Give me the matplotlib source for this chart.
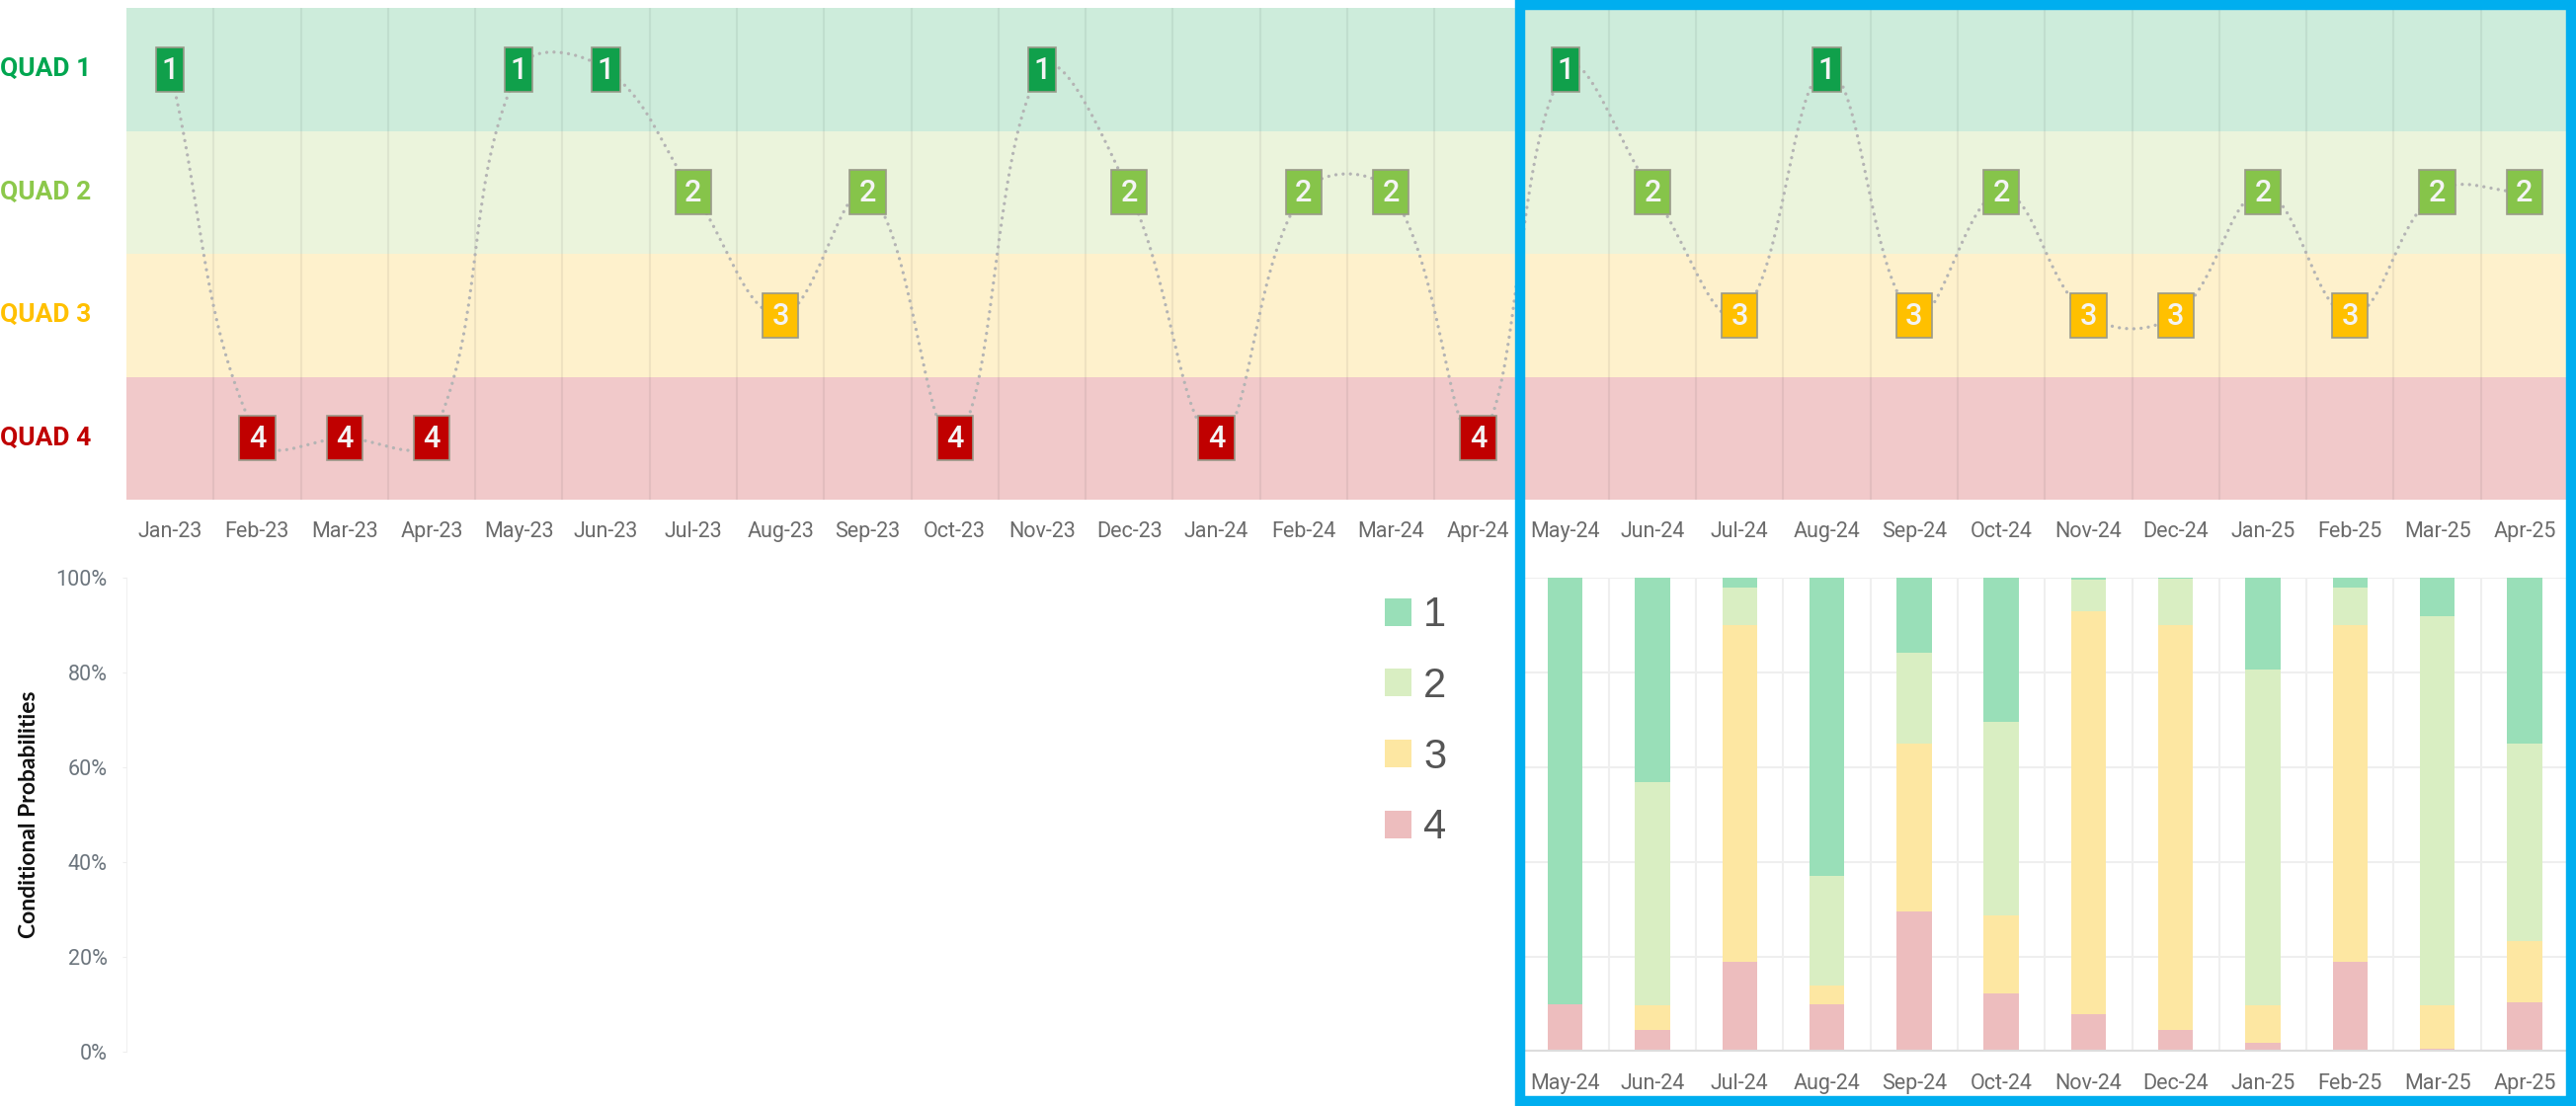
import matplotlib
matplotlib.use('Agg')
import matplotlib.pyplot as plt
import numpy as np
from matplotlib.patches import Rectangle, Patch

# months shown on the top chart
months = ['Jan-23', 'Feb-23', 'Mar-23', 'Apr-23', 'May-23', 'Jun-23', 'Jul-23',
          'Aug-23', 'Sep-23', 'Oct-23', 'Nov-23', 'Dec-23', 'Jan-24', 'Feb-24',
          'Mar-24', 'Apr-24', 'May-24', 'Jun-24', 'Jul-24', 'Aug-24', 'Sep-24',
          'Oct-24', 'Nov-24', 'Dec-24', 'Jan-25', 'Feb-25', 'Mar-25', 'Apr-25']
# quadrant for each month
quads = [1, 4, 4, 4, 1, 1, 2, 3, 2, 4, 1, 2, 4, 2, 2, 4,
         1, 2, 3, 1, 3, 2, 3, 3, 2, 3, 2, 2]
quad_labels = ['QUAD 1', 'QUAD 2', 'QUAD 3', 'QUAD 4']

# conditional probabilities (%) for the last 12 months
bar_months = months[16:]
prob_1 = [90.0, 43.2, 2.0, 63.0, 15.9, 30.5, 0.4, 0.2, 19.3, 2.0, 8.1, 35.0]
prob_2 = [0.0, 47.0, 8.0, 23.0, 19.2, 40.7, 6.6, 9.7, 70.9, 8.0, 82.1, 41.6]
prob_3 = [0.0, 5.3, 71.0, 4.0, 35.3, 16.6, 85.0, 85.6, 7.9, 71.0, 9.2, 12.9]
prob_4 = [10.0, 4.5, 19.0, 10.0, 29.6, 12.2, 8.0, 4.5, 1.9, 19.0, 0.6, 10.5]

band_colors = {1: '#cdecdb', 2: '#ebf4dc', 3: '#fef1cc', 4: '#f1c9ca'}
marker_colors = {1: '#10a04b', 2: '#86c44a', 3: '#ffc000', 4: '#c00000'}
label_colors = {1: '#00a650', 2: '#8cc84b', 3: '#ffc000', 4: '#c00000'}
bar_colors = {1: '#99dfb8', 2: '#d9eec2', 3: '#fde7a2', 4: '#edbdbe'}

plt.rcParams['font.family'] = ['Roboto', 'DejaVu Sans']

W, H = 2608, 1120
fig = plt.figure(figsize=(W / 100, H / 100), dpi=100)
left, right = 128, 2600
ax = fig.add_axes([left / W, 1 - 506 / H, (right - left) / W, (506 - 8) / H])
axb = fig.add_axes([left / W, 1 - 1065 / H, (right - left) / W, (1065 - 585) / H])

n = len(months)
x = np.arange(n)

# ---- top chart: regime bands ----
for q in range(1, 5):
    ax.axhspan(q - 0.5, q + 0.5, color=band_colors[q], lw=0, zorder=0)
    ax.text(-128 / (right - left), q, quad_labels[q - 1], transform=ax.get_yaxis_transform(),
            ha='left', va='center', fontsize=19, fontweight='bold', color=label_colors[q])
for b in np.arange(0.5, n - 0.5, 1):
    ax.axvline(b, color='black', alpha=0.06, lw=1.5, zorder=1)


def spline(px, py, tension=0.4):
    # chart.js style bezier smoothing in pixel space
    sx, sy = 88.3, 124.5
    P = np.column_stack([px * sx, py * sy])
    cps = []
    for i in range(len(P)):
        prev = P[i - 1] if i > 0 else P[i]
        nxt = P[i + 1] if i < len(P) - 1 else P[i]
        d01 = np.hypot(*(P[i] - prev))
        d12 = np.hypot(*(nxt - P[i]))
        tot = d01 + d12
        s01 = d01 / tot if tot else 0
        s12 = d12 / tot if tot else 0
        cps.append((P[i] - tension * s01 * (nxt - prev), P[i] + tension * s12 * (nxt - prev)))
    t = np.linspace(0, 1, 40)[:, None]
    segs = []
    for i in range(len(P) - 1):
        p0, p1, p2, p3 = P[i], cps[i][1], cps[i + 1][0], P[i + 1]
        seg = (1 - t) ** 3 * p0 + 3 * (1 - t) ** 2 * t * p1 + 3 * (1 - t) * t ** 2 * p2 + t ** 3 * p3
        segs.append(seg)
    c = np.vstack(segs)
    return c[:, 0] / sx, c[:, 1] / sy


cx, cy = spline(x.astype(float), np.array(quads, dtype=float))
ax.plot(cx, cy, color='#b4b4b4', lw=2.4, ls=(0, (0.01, 2.2)), dash_capstyle='round', zorder=2)

for i, q in enumerate(quads):
    w = 0.32 if q == 1 else 0.41
    h = 0.36
    ax.add_patch(Rectangle((i - w / 2, q - h / 2), w, h, facecolor=marker_colors[q],
                           edgecolor='#9a9a8a', lw=1.2, zorder=3))
    ax.text(i, q + 0.01, str(q), ha='center', va='center', color='#f4f4f4',
            fontsize=22, fontweight='medium', zorder=4)

ax.set_xlim(-0.5, n - 0.5)
ax.set_ylim(4.5, 0.5)
ax.set_yticks([])
ax.set_xticks(x)
ax.set_xticklabels(months, fontsize=15.5, color='#6b6b6b')
ax.tick_params(axis='x', length=0, pad=16)
for s in ax.spines.values():
    s.set_visible(False)

# ---- bottom chart: stacked conditional probabilities ----
bx = x[16:]
bw = 0.4
bottom = np.zeros(len(bx))
for q, vals in [(4, prob_4), (3, prob_3), (2, prob_2), (1, prob_1)]:
    axb.bar(bx, vals, bw, bottom=bottom, color=bar_colors[q], lw=0, zorder=2)
    bottom += np.array(vals)

yt = [0, 20, 40, 60, 80, 100]
axb.hlines(yt[1:], 15.5, n - 0.5, color='#efefef', lw=1.5, zorder=1)
axb.vlines(np.arange(15.5, n - 0.5, 1), 0, 100, color='#efefef', lw=1.5, zorder=1)
axb.hlines(0, 15.5, n - 0.5, color='#dcdcdc', lw=3, zorder=3)

axb.set_xlim(-0.5, n - 0.5)
axb.set_ylim(0, 100)
axb.set_yticks(yt)
axb.set_yticklabels([f'{v}%' for v in yt], fontsize=15.5, color='#6c757d')
axb.tick_params(axis='y', length=3, color='#eeeeee', pad=11)
axb.set_xticks(bx)
axb.set_xticklabels(bar_months, fontsize=15.5, color='#6b6b6b')
axb.tick_params(axis='x', length=0, pad=16)
for s in ['top', 'right', 'bottom']:
    axb.spines[s].set_visible(False)
axb.spines['left'].set_color('#f0f0f0')
axb.set_ylabel('Conditional Probabilities', fontsize=16.5, fontweight='bold',
               family=['Lato', 'DejaVu Sans'], color='#111111')
axb.yaxis.set_label_coords(-88 / (right - left), 0.5)

handles = [Patch(facecolor=bar_colors[q], lw=0, label=str(q)) for q in (1, 2, 3, 4)]
leg = axb.legend(handles=handles, loc='upper left', bbox_to_anchor=(0.50, 1.04),
                 frameon=False, handlelength=0.65, handleheight=0.65,
                 handletextpad=0.3, labelspacing=0.76,
                 prop={'family': ['Liberation Sans', 'DejaVu Sans'], 'size': 30})
for t in leg.get_texts():
    t.set_color('#555555')

# blue highlight frame around the last 12 months
fig.patches.append(Rectangle((1539 / W, 5 / H), (2603 - 1539) / W, (1115 - 5) / H,
                             fill=False, ec='#00aeef', lw=7.5, joinstyle='miter',
                             transform=fig.transFigure, figure=fig, zorder=10))

fig.savefig('out.png', dpi=100, facecolor='white')
